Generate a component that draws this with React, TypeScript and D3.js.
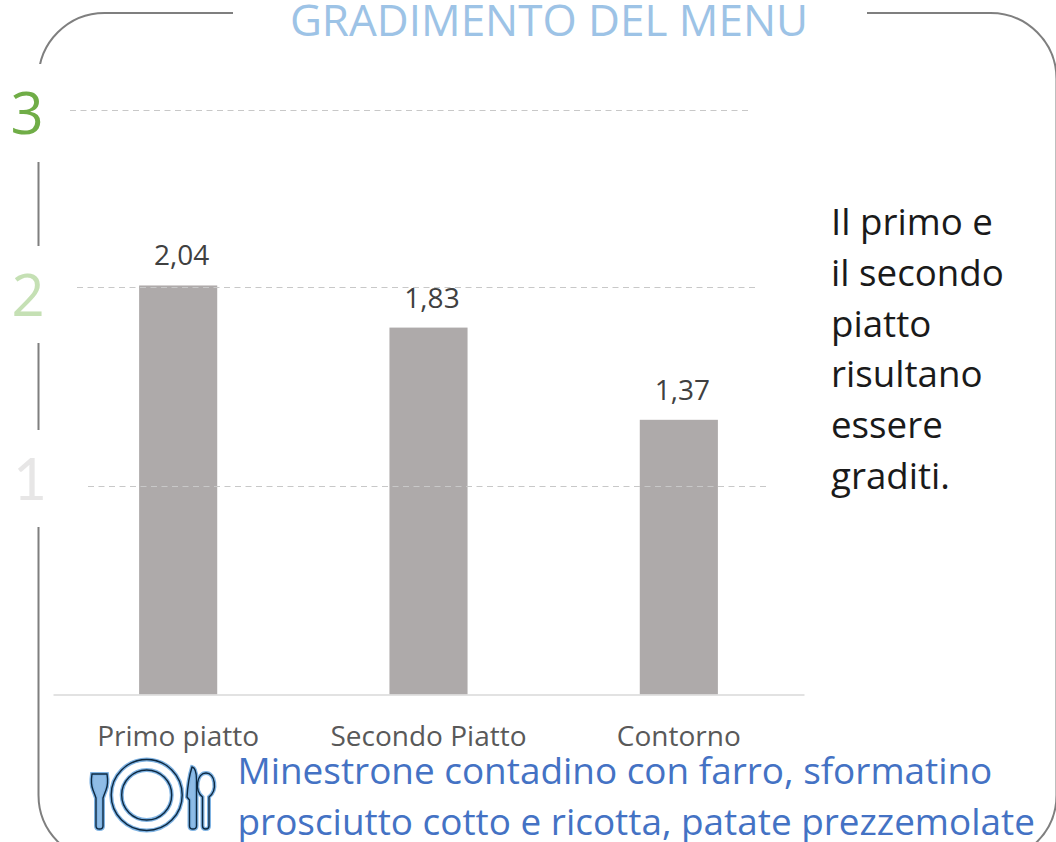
import * as d3 from 'd3';
import { useEffect, useRef } from 'react';

const categories = ['Primo piatto', 'Secondo Piatto', 'Contorno'];
const values = [2.04, 1.83, 1.37];
const valueLabels = ['2,04', '1,83', '1,37'];
// the dashed rules in the source sit slightly off the bar scale
const ruleLevels = [2.915, 2.03, 1.04];
const ruleStarts = [70, 77, 88];
const scaleDigits = ['3', '2', '1'];
const digitColors = ['#70ad47', '#c5e0b4', '#e7e6e6'];
const digitBaselines = [134, 316, 500];
const digitCenters = [27, 28, 30];
const noteLines = ['Il primo e', 'il secondo', 'piatto', 'risultano', 'essere', 'graditi.'];
const menuLines = ['Minestrone contadino con farro, sformatino', 'prosciutto cotto e ricotta, patate prezzemolate'];

const FONT = '"Open Sans", "Noto Sans", sans-serif';
const width = 1056;
const height = 842;

const forkPath = 'M22 34 L37 34 Q38.5 44 36 50 Q34 55 33 58 L33 86 Q33 89 29.5 89 Q26 89 26 86 L26 58 Q25 55 23 50 Q20.5 44 22 34Z';
const knifePath = 'M122 27 Q126.5 28 126.5 40 L126.5 86 Q126.5 89 123 89 Q119.5 89 119.5 86 L119.5 60 L117 57 Q118 40 122 27Z';
const spoonPath = 'M132.5 57 C124 50 127 33 136 33 C145 33 148 50 139 57 L139 86 Q139 89 135.7 89 Q132.5 89 132.5 86Z';

export default function App() {
  const ref = useRef<SVGSVGElement>(null);

  useEffect(() => {
    const svg = d3.select(ref.current);
    svg.selectAll('*').remove();

    const x = d3.scaleBand<string>()
      .domain(categories)
      .range([53, 804])
      .paddingInner(0.688)
      .paddingOuter(0.344);
    const y = d3.scaleLinear().domain([0, 3]).range([694.5, 93]);

    // frame, broken by white patches behind the title and the digits
    svg.append('rect')
      .attr('x', 38.5).attr('y', 13)
      .attr('width', 1018).attr('height', 848)
      .attr('rx', 66).attr('ry', 66)
      .attr('fill', 'none')
      .attr('stroke', '#7f7f7f')
      .attr('stroke-width', 2);
    svg.append('rect').attr('x', 233).attr('y', 0).attr('width', 634).attr('height', 30).attr('fill', '#fff');
    [[64, 162], [246, 343], [430, 527]].forEach(([top, bottom]) => {
      svg.append('rect').attr('x', 0).attr('y', top).attr('width', 60).attr('height', bottom - top).attr('fill', '#fff');
    });

    svg.append('text')
      .attr('x', 549).attr('y', 36)
      .attr('text-anchor', 'middle')
      .attr('fill', '#9dc3e6')
      .style('font-size', '44px')
      .text('GRADIMENTO DEL MENU');

    svg.selectAll('.digit')
      .data(scaleDigits)
      .enter()
      .append('text')
      .attr('class', 'digit')
      .attr('x', (d, i) => digitCenters[i])
      .attr('y', (d, i) => digitBaselines[i])
      .attr('text-anchor', 'middle')
      .attr('fill', (d, i) => digitColors[i])
      .style('font-size', '58px')
      .style('font-family', (d) => (d === '1' ? 'Lato, sans-serif' : FONT))
      .text((d) => d);

    svg.selectAll('.bar')
      .data(values)
      .enter()
      .append('rect')
      .attr('class', 'bar')
      .attr('x', (d, i) => x(categories[i]) as number)
      .attr('y', (d) => y(d))
      .attr('width', x.bandwidth())
      .attr('height', (d) => y(0) - y(d))
      .attr('fill', '#aeaaaa');

    svg.selectAll('.rule')
      .data(ruleLevels)
      .enter()
      .append('line')
      .attr('class', 'rule')
      .attr('x1', (d, i) => ruleStarts[i])
      .attr('x2', (d, i) => ruleStarts[i] + 679)
      .attr('y1', (d) => Math.round(y(d)) + 0.5)
      .attr('y2', (d) => Math.round(y(d)) + 0.5)
      .attr('stroke', '#c8c8c8')
      .attr('stroke-width', 1)
      .attr('stroke-dasharray', '6 4.5');

    const axis = svg.append('g')
      .attr('transform', `translate(0,${y(0)})`)
      .call(d3.axisBottom(x).tickSize(0).tickPadding(32));
    axis.select('.domain').attr('stroke', '#d9d9d9').attr('stroke-width', 1.5);
    axis.selectAll('text')
      .attr('fill', '#595959')
      .style('font-family', FONT)
      .style('font-size', '28px');

    svg.selectAll('.value')
      .data(values)
      .enter()
      .append('text')
      .attr('class', 'value')
      .attr('x', (d, i) => (x(categories[i]) as number) + x.bandwidth() / 2 + 3.5)
      .attr('y', (d) => y(d) - 20)
      .attr('text-anchor', 'middle')
      .attr('fill', '#404040')
      .style('font-size', '28px')
      .text((d, i) => valueLabels[i]);

    svg.selectAll('.note')
      .data(noteLines)
      .enter()
      .append('text')
      .attr('class', 'note')
      .attr('x', 831)
      .attr('y', (d, i) => 235 + i * 50.8)
      .attr('fill', '#1a1a1a')
      .style('font-size', '36.7px')
      .text((d) => d);

    svg.selectAll('.menu')
      .data(menuLines)
      .enter()
      .append('text')
      .attr('class', 'menu')
      .attr('x', 237.5)
      .attr('y', (d, i) => 784 + i * 51)
      .attr('fill', '#4472c4')
      .style('font-size', '36.9px')
      .text((d) => d);

    // plate and cutlery: a pale halo under a thin dark outline
    const icon = svg.append('g').attr('transform', 'translate(70,740)');
    const drawIcon = (stroke: string, strokeWidth: number, halo: boolean) => {
      [35.5, 25].forEach((r) => {
        icon.append('circle')
          .attr('cx', 76.7).attr('cy', 55).attr('r', r)
          .attr('fill', 'none')
          .attr('stroke', stroke)
          .attr('stroke-width', strokeWidth);
      });
      [forkPath, knifePath, spoonPath].forEach((p, i) => {
        icon.append('path')
          .attr('d', p)
          .attr('fill', halo ? (i === 2 ? '#fff' : '#8fbce6') : 'none')
          .attr('stroke', stroke)
          .attr('stroke-width', strokeWidth);
      });
    };
    drawIcon('#7fb3e3', 4, true);
    drawIcon('#0d2840', 1.4, false);
  }, []);

  return (
    <svg
      ref={ref}
      width={width}
      height={height}
      viewBox={`0 0 ${width} ${height}`}
      style={{ position: 'absolute', left: 0, top: 0, fontFamily: FONT, background: '#fff' }}
    />
  );
}
